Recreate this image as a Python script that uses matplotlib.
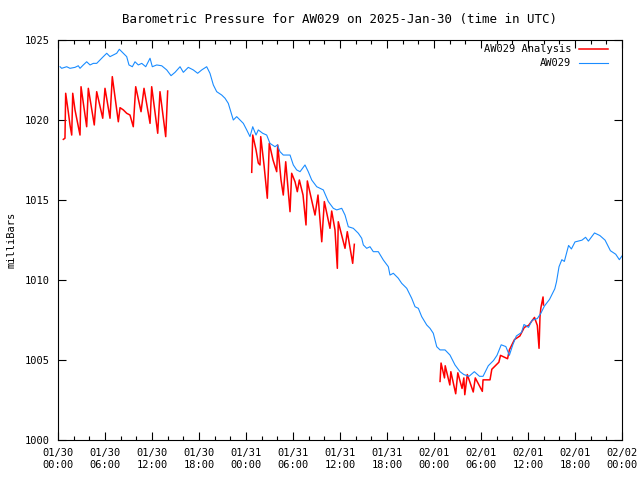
import matplotlib
matplotlib.use('Agg')

import numpy as np
import matplotlib.pyplot as plt

# hours since 2025-01-30 00:00 UTC, pressure in mb
obs_hours = [0.26, 0.47, 1.11, 1.53, 2.17, 2.59, 2.81, 3.23, 3.66, 4.09, 4.51, 4.94, 5.36, 5.78,
             6.22, 6.64, 7.06, 7.49, 7.83, 8.34, 8.77, 9.06, 9.49, 9.83, 10.25, 10.69, 11.2, 11.75,
             12.04, 12.6, 13.24, 13.88, 14.43, 14.94, 15.58, 16.0, 16.63, 17.27, 17.83, 18.35,
             18.98, 19.4, 19.83, 20.26, 20.9, 21.32, 21.74, 22.18, 22.38, 22.81, 23.23, 23.66,
             24.09, 24.51, 24.86, 25.28, 25.57, 26.13, 26.64, 27.06, 27.7, 28.0, 28.34, 28.76,
             29.62, 30.04, 30.47, 30.9, 31.53, 31.95, 32.39, 33.03, 33.87, 34.51, 35.15, 35.58,
             36.22, 36.64, 37.06, 37.7, 38.34, 38.77, 38.98, 39.41, 39.83, 40.25, 40.89, 41.53,
             42.17, 42.38, 42.81, 43.44, 43.88, 44.52, 45.15, 45.58, 46.0, 46.43, 47.07, 47.49,
             47.91, 48.35, 48.77, 49.41, 50.04, 50.68, 51.32, 51.81, 52.47, 53.15, 53.81, 54.26,
             54.93, 55.6, 56.04, 56.58, 57.17, 57.62, 58.06, 58.51, 59.17, 59.49, 60.07, 60.51,
             61.19, 61.64, 62.08, 62.75, 63.42, 63.64, 63.96, 64.32, 64.64, 65.0, 65.18, 65.54,
             66.0, 66.89, 67.35, 67.71, 68.49, 69.17, 69.84, 70.52, 71.2, 71.66, 72.0]
obs_mb = [1023.33, 1023.23, 1023.33, 1023.23, 1023.29, 1023.39, 1023.23, 1023.44, 1023.64,
          1023.44, 1023.54, 1023.54, 1023.75, 1023.96, 1024.17, 1023.96, 1024.06, 1024.17,
          1024.42, 1024.17, 1023.96, 1023.44, 1023.33, 1023.64, 1023.44, 1023.54, 1023.33,
          1023.86, 1023.33, 1023.44, 1023.39, 1023.13, 1022.77, 1022.98, 1023.33, 1022.98,
          1023.29, 1023.13, 1022.92, 1023.13, 1023.33, 1022.92, 1022.19, 1021.77, 1021.56,
          1021.36, 1021.04, 1020.31, 1020.0, 1020.21, 1020.0, 1019.79, 1019.38, 1018.96,
          1019.58, 1019.06, 1019.38, 1019.17, 1019.06, 1018.54, 1018.33, 1018.44, 1018.02,
          1017.81, 1017.81, 1017.19, 1016.88, 1016.77, 1017.19, 1016.77, 1016.25, 1015.83,
          1015.63, 1014.9, 1014.48, 1014.38, 1014.48, 1014.06, 1013.33, 1013.23, 1012.92,
          1012.61, 1012.19, 1011.98, 1012.08, 1011.77, 1011.77, 1011.25, 1010.83, 1010.31,
          1010.42, 1010.11, 1009.79, 1009.48, 1008.86, 1008.33, 1008.23, 1007.71, 1007.19,
          1006.98, 1006.67, 1005.83, 1005.63, 1005.63, 1005.31, 1004.69, 1004.27, 1004.09,
          1003.98, 1004.27, 1003.98, 1003.98, 1004.64, 1004.97, 1005.29, 1005.95, 1005.84,
          1005.29, 1005.95, 1006.5, 1006.72, 1007.22, 1007.04, 1007.48, 1007.59, 1007.92,
          1008.36, 1008.79, 1009.45, 1009.89, 1010.83, 1011.27, 1011.16, 1011.83, 1012.16,
          1011.94, 1012.38, 1012.49, 1012.67, 1012.43, 1012.94, 1012.78, 1012.49, 1011.83,
          1011.61, 1011.27, 1011.5]

# analysis segments (gaps between them)
ana1_hours = [0.68, 0.89, 0.98, 1.31, 1.53, 1.75, 1.88, 2.17, 2.81, 2.94, 3.66, 3.87, 4.63, 4.94,
              5.71, 6.0, 6.64, 6.93, 7.7, 7.92, 8.34, 8.77, 9.19, 9.61, 9.92, 10.6, 10.98, 11.75,
              11.96, 12.73, 13.02, 13.75, 14.0]
ana1_mb = [1018.79, 1018.86, 1021.67, 1020.52, 1019.69, 1019.06, 1021.67, 1020.63, 1019.06,
           1022.08, 1019.58, 1021.98, 1019.69, 1021.77, 1020.11, 1021.98, 1020.11, 1022.71,
           1019.89, 1020.77, 1020.63, 1020.42, 1020.31, 1019.58, 1022.08, 1020.52, 1021.98,
           1019.79, 1022.08, 1019.17, 1021.77, 1018.96, 1021.81]
ana2_hours = [24.73, 24.86, 25.28, 25.57, 25.79, 25.88, 26.3, 26.72, 26.85, 26.97, 27.45, 27.92,
              28.05, 28.47, 28.76, 29.07, 29.62, 29.83, 30.26, 30.55, 30.81, 31.28, 31.66, 31.83,
              32.81, 33.19, 33.67, 34.0, 34.72, 34.94, 35.36, 35.66, 35.78, 36.64, 36.93, 37.62,
              37.83]
ana2_mb = [1016.73, 1019.06, 1018.13, 1017.31, 1017.19, 1018.96, 1017.19, 1015.11, 1016.77,
           1018.54, 1017.5, 1016.77, 1018.44, 1016.25, 1015.31, 1017.39, 1014.27, 1016.67,
           1016.14, 1015.52, 1016.25, 1015.31, 1013.44, 1016.19, 1014.06, 1015.31, 1012.39,
           1014.9, 1013.23, 1014.31, 1013.13, 1010.73, 1013.64, 1011.98, 1013.02, 1011.04,
           1012.23]
ana3_hours = [48.77, 48.9, 49.34, 49.43, 50.02, 50.15, 50.77, 51.04, 51.58, 51.81, 51.93, 52.25,
              53.01, 53.27, 54.17, 54.26, 55.15, 55.38, 56.28, 56.49, 57.39, 57.62, 58.28, 58.96,
              59.53, 60.07, 60.83, 61.19, 61.41, 61.53, 61.64, 61.92, 61.98]
ana3_mb = [1003.66, 1004.81, 1003.88, 1004.64, 1003.44, 1004.27, 1002.89, 1004.2, 1003.22,
           1003.88, 1002.83, 1004.09, 1003.0, 1003.88, 1003.04, 1003.76, 1003.76, 1004.42,
           1004.86, 1005.29, 1005.08, 1005.63, 1006.28, 1006.5, 1007.04, 1007.16, 1007.66,
           1007.16, 1005.73, 1007.7, 1008.25, 1008.94, 1008.44]

tick_hours = list(range(0, 73, 6))
tick_labels = ['01/30\n00:00', '01/30\n06:00', '01/30\n12:00', '01/30\n18:00',
               '01/31\n00:00', '01/31\n06:00', '01/31\n12:00', '01/31\n18:00',
               '02/01\n00:00', '02/01\n06:00', '02/01\n12:00', '02/01\n18:00',
               '02/02\n00:00']

plt.rcParams['font.family'] = 'DejaVu Sans Mono'
plt.rcParams['font.size'] = 7.5

fig = plt.figure(figsize=(6.4, 4.8), dpi=100)
ax = fig.add_axes([58 / 640, 40 / 480, 564 / 640, 400 / 480])

red = '#ff0000'
blue = '#1a8cff'
ax.plot(ana1_hours, ana1_mb, color=red, lw=1.1, label='AW029 Analysis')
ax.plot(ana2_hours, ana2_mb, color=red, lw=1.1)
ax.plot(ana3_hours, ana3_mb, color=red, lw=1.1)
ax.plot(obs_hours, obs_mb, color=blue, lw=0.8, label='AW029')

ax.set_xlim(0, 72)
ax.set_ylim(1000, 1025)
ax.set_xticks(tick_hours)
ax.set_xticklabels(tick_labels)
ax.set_xticks(np.arange(0, 73, 2), minor=True)
ax.set_yticks(np.arange(1000, 1026, 5))
ax.tick_params(which='both', direction='in', top=True, right=True, width=0.8)
ax.tick_params(which='major', length=6, pad=6)
ax.tick_params(which='minor', length=3)
for s in ax.spines.values():
    s.set_linewidth(0.8)

ax.set_ylabel('milliBars', labelpad=6)
ax.set_title('Barometric Pressure for AW029 on 2025-Jan-30 (time in UTC)', pad=12)
ax.legend(loc='upper right', bbox_to_anchor=(1 - 10 / 564, 1), frameon=False,
          markerfirst=False, handlelength=2.8, borderaxespad=0.4, borderpad=0.0,
          labelspacing=0.4, handletextpad=0.7)

plt.savefig('out.png', dpi=100)
